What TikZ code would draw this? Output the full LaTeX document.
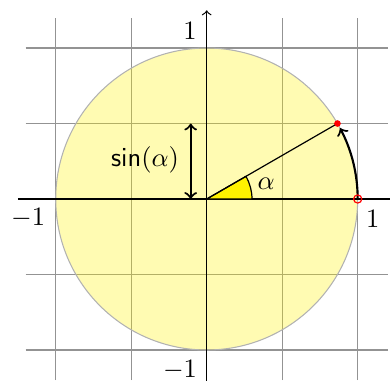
\documentclass[tikz,border=0pt]{standalone}
\begin{document}
\begin{tikzpicture}[x=2cm,y=2cm,
  gridline/.style={gray!85, line width=0.4pt},
  rim/.style={gray!60, line width=0.4pt},
  axisline/.style={black, line width=0.45pt},
  boldarrow/.style={thick, black},
  ticklabel/.style={inner sep=0pt}]
\useasboundingbox (-1.369,-1.205) rectangle (1.214,1.318);
\clip (-1.369,-1.205) rectangle (1.214,1.318);
% named points
\coordinate (O) at (0,0);
\coordinate (A) at (1,0);
\coordinate (P) at (30:1);
\coordinate (xl) at (-1.25,0);
\coordinate (xr) at (1.25,0);
\coordinate (yb) at (0,-1.25);
\coordinate (yt) at (0,1.25);
\coordinate (s0) at (-0.106,0);
\coordinate (s1) at (-0.106,0.5);
% grid
\draw[gridline, step=0.5] (-1.2,-1.2) grid (1.2,1.2);
% unit circle
\fill[yellow, fill opacity=0.3] (O) circle (1);
\draw[rim] (O) circle (1);
% axes
\draw[axisline] (xl) -- (xr);
\draw[axisline, ->] (yb) -- (yt);
% angle wedge
\filldraw[fill=yellow, draw=black, line width=0.45pt] (O) -- (0.3,0) arc (0:30:0.3) -- cycle;
% radius
\draw[black, line width=0.45pt] (O) -- (P);
% arc arrow
\draw[boldarrow, ->] (A) arc (0:28:1);
% sin arrow
\draw[boldarrow, <->] (s0) -- (s1);
% points
\fill[red] (P) circle (0.022);
\draw[red, line width=0.45pt] (A) circle (0.027);
% labels
\node[ticklabel, anchor=east] (sinlab) at (-0.18,0.258) {$\mathsf{sin}(\alpha)$};
\node (alab) at (0.394,0.10) {$\alpha$};
\node[ticklabel] (xone) at (1.10,-0.135) {$1$};
\node[ticklabel] (xmone) at (-1.183,-0.127) {$-1$};
\node[ticklabel] (ymone) at (-0.177,-1.13) {$-1$};
\node[ticklabel] (yone) at (-0.11,1.11) {$1$};
\end{tikzpicture}
\end{document}
